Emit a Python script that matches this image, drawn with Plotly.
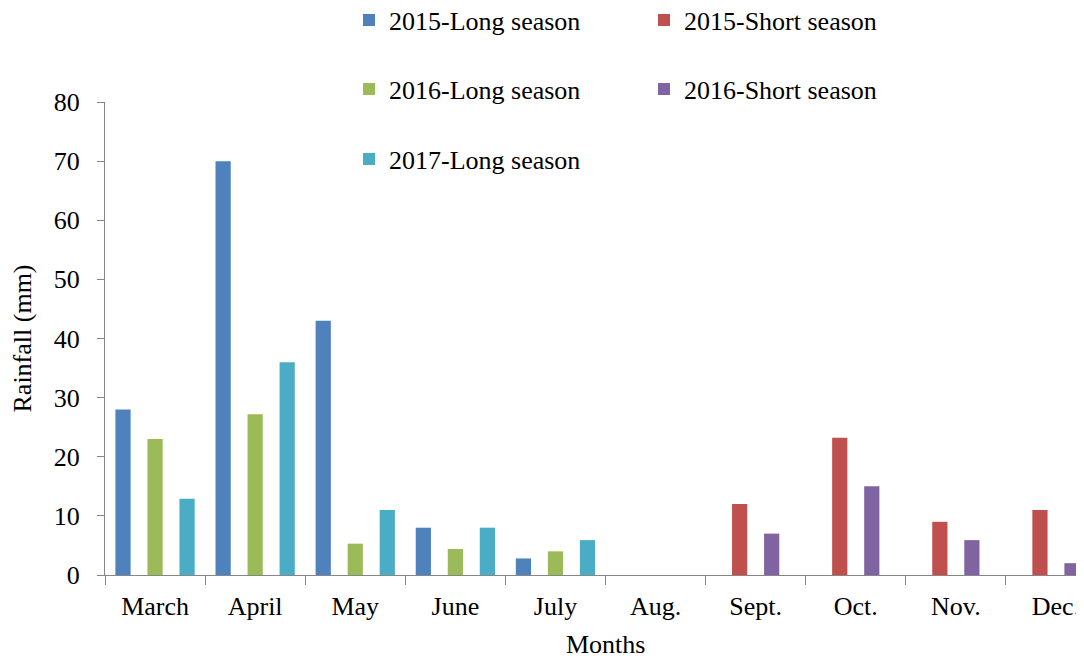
import plotly.graph_objects as go

months = ["March", "April", "May", "June", "July", "Aug.", "Sept.", "Oct.", "Nov.", "Dec."]
long_2015 = [28, 70, 43, 8, 2.8, None, None, None, None, None]
short_2015 = [None, None, None, None, None, None, 12, 23.2, 9, 11]
long_2016 = [23, 27.2, 5.3, 4.4, 4, None, None, None, None, None]
short_2016 = [None, None, None, None, None, None, 7, 15, 5.9, 2]
long_2017 = [12.9, 36, 11, 8, 5.9, None, None, None, None, None]

series = [
    ("2015-Long season", long_2015, "#4F81BD", "legend"),
    ("2015-Short season", short_2015, "#C0504D", "legend"),
    ("2016-Long season", long_2016, "#9BBB59", "legend2"),
    ("2016-Short season", short_2016, "#8064A2", "legend2"),
    ("2017-Long season", long_2017, "#4BACC6", "legend3"),
]

FONT = "Liberation Serif"
FS = 26
W, H = 1076, 654  # page adds an 8px body margin

fig = go.Figure()
for name, vals, color, lg in series:
    fig.add_trace(go.Bar(x=months, y=vals, name=name, marker=dict(color=color, line=dict(width=0)),
                         legend=lg))

legend_common = dict(orientation="h", xref="container", yref="container", xanchor="left",
                     yanchor="middle", entrywidth=250, entrywidthmode="pixels",
                     font=dict(family=FONT, size=FS, color="black"), bgcolor="rgba(0,0,0,0)",
                     itemclick=False, itemdoubleclick=False)

fig.update_layout(
    width=W, height=H,
    margin=dict(l=97, r=0, t=94, b=87, autoexpand=False),
    paper_bgcolor="white", plot_bgcolor="white",
    barmode="group", bargap=0.2, bargroupgap=0.05,
    font=dict(family=FONT, size=FS, color="black"),
    legend=dict(x=341 / W, y=1 - 12 / H, **legend_common),
    legend2=dict(x=341 / W, y=1 - 81 / H, **legend_common),
    legend3=dict(x=341 / W, y=1 - 151 / H, **legend_common),
    xaxis=dict(type="category", range=[-0.5, 9.28], showline=True, linecolor="#868686", linewidth=1,
               ticks="outside", tickson="boundaries", ticklen=9, tickcolor="#868686",
               showgrid=False, zeroline=False, automargin=False, ticklabelstandoff=8,
               tickfont=dict(family=FONT, size=FS, color="black")),
    yaxis=dict(range=[0, 80], dtick=10, showline=True, linecolor="#868686", linewidth=1,
               ticks="outside", ticklen=7, tickcolor="#868686", showgrid=False, zeroline=False,
               automargin=False,
               tickfont=dict(family=FONT, size=FS, color="black"), ticklabelstandoff=12),
    annotations=[
        dict(text="Months", xref="x", yref="paper", x=4.5, y=-69 / 473, showarrow=False,
             xanchor="center", yanchor="middle", font=dict(family=FONT, size=FS, color="black")),
        dict(text="Rainfall (mm)", xref="paper", yref="paper", x=-83 / 979, y=0.5, showarrow=False,
             textangle=-90, xanchor="center", yanchor="middle",
             font=dict(family=FONT, size=FS, color="black")),
    ],
)

fig.write_html("out.html")
